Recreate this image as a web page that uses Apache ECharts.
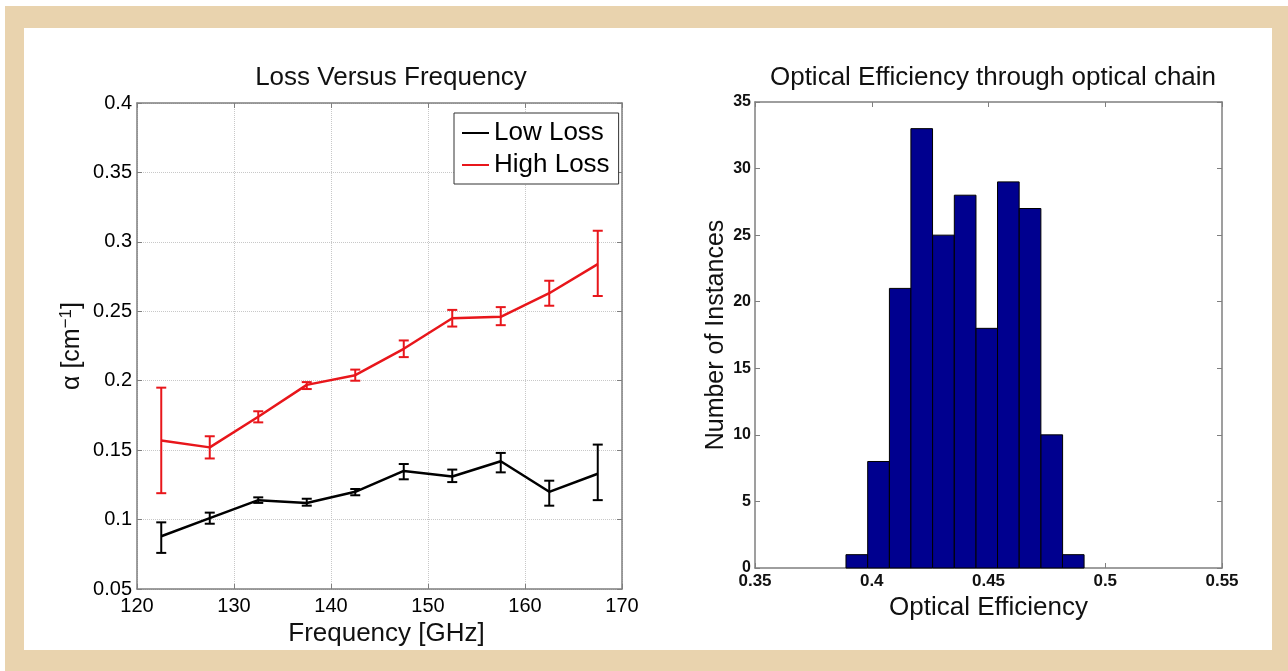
<!DOCTYPE html>
<html>
<head>
<meta charset="utf-8">
<script src="https://cdn.jsdelivr.net/npm/echarts@6/dist/echarts.min.js"></script>
<style>
  html, body { margin: 0; padding: 0; background: #fff; }
  #frame { position: absolute; left: 5px; top: 6px; width: 1283px; height: 665px; background: #e9d3ae; }
  #panel { position: absolute; left: 24px; top: 28px; width: 1248px; height: 622px; background: #fff; }
  #chart { position: absolute; left: 0; top: 0; width: 1288px; height: 671px; }
</style>
</head>
<body>
<div id="frame"></div>
<div id="panel"></div>
<div id="chart"></div>
<script>
// 左图：损耗随频率变化（带误差棒）
var freq = [122.5, 127.5, 132.5, 137.5, 142.5, 147.5, 152.5, 157.5, 162.5, 167.5];
var lowLoss   = [0.088, 0.101, 0.114, 0.112, 0.120, 0.135, 0.131, 0.142, 0.120, 0.133];
var lowLossLo = [0.076, 0.097, 0.112, 0.110, 0.1175, 0.129, 0.127, 0.134, 0.110, 0.114];
var lowLossHi = [0.098, 0.105, 0.116, 0.115, 0.122, 0.140, 0.136, 0.148, 0.128, 0.154];
var highLoss   = [0.157, 0.152, 0.174, 0.197, 0.204, 0.223, 0.245, 0.246, 0.263, 0.284];
var highLossLo = [0.119, 0.144, 0.170, 0.194, 0.200, 0.217, 0.239, 0.240, 0.254, 0.261];
var highLossHi = [0.195, 0.160, 0.178, 0.199, 0.208, 0.229, 0.251, 0.253, 0.272, 0.308];

// 右图：光学效率直方图
var binCenters = [0.3936, 0.4029, 0.4122, 0.4214, 0.4307, 0.4400, 0.4493, 0.4585, 0.4678, 0.4771, 0.4863];
var binCounts  = [1, 8, 21, 33, 25, 28, 18, 29, 27, 10, 1];
var binWidth = 0.00927;

var font = "'Liberation Sans', Arial, sans-serif";
var axisGray = "#7f7f7f";
var red = "#e8161b";

var myChart = echarts.init(document.getElementById("chart"));

function pairs(xs, ys) {
  return xs.map(function(x, i) { return [x, ys[i]]; });
}
function triples(xs, lo, hi) {
  return xs.map(function(x, i) { return [x, lo[i], hi[i]]; });
}

// 误差棒绘制
function errorBar(color) {
  return function(params, api) {
    var x = api.value(0);
    var top = api.coord([x, api.value(2)]);
    var bot = api.coord([x, api.value(1)]);
    var w = 5;
    var st = { stroke: color, lineWidth: 2 };
    return {
      type: "group",
      children: [
        { type: "line", shape: { x1: top[0], y1: top[1], x2: bot[0], y2: bot[1] }, style: st },
        { type: "line", shape: { x1: top[0] - w, y1: top[1], x2: top[0] + w, y2: top[1] }, style: st },
        { type: "line", shape: { x1: bot[0] - w, y1: bot[1], x2: bot[0] + w, y2: bot[1] }, style: st }
      ]
    };
  };
}

function boxAxis(extra) {
  var a = {
    axisLine: { show: true, onZero: false, lineStyle: { color: axisGray, width: 1.5 } },
    axisTick: { show: true, inside: true, length: 5, lineStyle: { color: axisGray } },
    axisLabel: { show: false },
    splitLine: { show: false }
  };
  for (var k in extra) a[k] = extra[k];
  return a;
}

var option = {
  animation: false,
  title: [
    {
      text: "Loss Versus Frequency",
      left: 386, top: 60, textAlign: "center",
      textStyle: { fontFamily: font, fontSize: 26, fontWeight: "normal", color: "#111" }
    },
    {
      text: "Optical Efficiency through optical chain",
      left: 988, top: 60, textAlign: "center",
      textStyle: { fontFamily: font, fontSize: 26, fontWeight: "normal", color: "#111" }
    }
  ],
  legend: {
    data: ["Low Loss", "High Loss"],
    orient: "vertical",
    left: 454, top: 113,
    padding: [6, 9, 5, 8],
    itemGap: 4,
    icon: "rect",
    itemWidth: 27, itemHeight: 2,
    backgroundColor: "#fff",
    borderColor: "#333", borderWidth: 1,
    textStyle: { fontFamily: font, fontSize: 26, color: "#000", lineHeight: 28 }
  },
  grid: [
    { left: 137, top: 103, right: 666, bottom: 82 },
    { left: 755, top: 102, right: 66, bottom: 103 }
  ],
  xAxis: [
    boxAxis({
      type: "value", gridIndex: 0, min: 120, max: 170, interval: 10, position: "bottom",
      name: "Frequency [GHz]", nameLocation: "middle", nameGap: 23,
      nameTextStyle: { fontFamily: font, fontSize: 26, color: "#111", padding: [0, 0, 0, 14] },
      axisLabel: { show: true, fontFamily: font, fontSize: 20, color: "#000", margin: 7 },
      splitLine: { show: true, lineStyle: { color: "#c8c8c8", type: "dotted" } }
    }),
    boxAxis({ type: "value", gridIndex: 0, min: 120, max: 170, interval: 10, position: "top" }),
    boxAxis({
      type: "value", gridIndex: 1, min: 0.35, max: 0.55, interval: 0.05, position: "bottom",
      name: "Optical Efficiency", nameLocation: "middle", nameGap: 21,
      nameTextStyle: { fontFamily: font, fontSize: 26, color: "#111" },
      axisLabel: { show: true, fontFamily: font, fontSize: 17, fontWeight: "bold", color: "#111", margin: 5 }
    }),
    boxAxis({ type: "value", gridIndex: 1, min: 0.35, max: 0.55, interval: 0.05, position: "top" })
  ],
  yAxis: [
    boxAxis({
      type: "value", gridIndex: 0, min: 0.05, max: 0.4, interval: 0.05, position: "left",
      name: "{n|α [cm}{s|−1}{n|]}", nameLocation: "middle", nameGap: 50, nameRotate: 90,
      nameTextStyle: {
        fontFamily: font, color: "#111",
        rich: {
          n: { fontFamily: font, fontSize: 25, color: "#111" },
          s: { fontFamily: font, fontSize: 17, color: "#111", verticalAlign: "top", padding: [0, 0, 12, 0] }
        }
      },
      axisLabel: { show: true, fontFamily: font, fontSize: 20, color: "#000", margin: 5 },
      splitLine: { show: true, lineStyle: { color: "#c8c8c8", type: "dotted" } }
    }),
    boxAxis({ type: "value", gridIndex: 0, min: 0.05, max: 0.4, interval: 0.05, position: "right" }),
    boxAxis({
      type: "value", gridIndex: 1, min: 0, max: 35, interval: 5, position: "left",
      name: "Number of Instances", nameLocation: "middle", nameGap: 26, nameRotate: 90,
      nameTextStyle: { fontFamily: font, fontSize: 25, color: "#111" },
      axisLabel: { show: true, fontFamily: font, fontSize: 16, fontWeight: "bold", color: "#111", margin: 4 }
    }),
    boxAxis({ type: "value", gridIndex: 1, min: 0, max: 35, interval: 5, position: "right" })
  ],
  series: [
    {
      name: "Low Loss", type: "line", xAxisIndex: 0, yAxisIndex: 0,
      data: pairs(freq, lowLoss), symbol: "none", color: "#000",
      lineStyle: { color: "#000", width: 2.5 }, z: 3
    },
    {
      name: "High Loss", type: "line", xAxisIndex: 0, yAxisIndex: 0,
      data: pairs(freq, highLoss), symbol: "none", color: red,
      lineStyle: { color: red, width: 2.5 }, z: 3
    },
    {
      type: "custom", xAxisIndex: 0, yAxisIndex: 0,
      data: triples(freq, lowLossLo, lowLossHi),
      encode: { x: 0, y: [1, 2] },
      renderItem: errorBar("#000"), z: 3
    },
    {
      type: "custom", xAxisIndex: 0, yAxisIndex: 0,
      data: triples(freq, highLossLo, highLossHi),
      encode: { x: 0, y: [1, 2] },
      renderItem: errorBar(red), z: 3
    },
    {
      type: "custom", xAxisIndex: 2, yAxisIndex: 2,
      data: pairs(binCenters, binCounts),
      encode: { x: 0, y: 1 },
      renderItem: function(params, api) {
        var c = api.value(0);
        var p0 = api.coord([c - binWidth / 2, api.value(1)]);
        var p1 = api.coord([c + binWidth / 2, 0]);
        return {
          type: "rect",
          shape: { x: p0[0], y: p0[1], width: p1[0] - p0[0], height: p1[1] - p0[1] },
          style: { fill: "#00008f", stroke: "#000", lineWidth: 1 }
        };
      }
    }
  ]
};

myChart.setOption(option);
</script>
</body>
</html>
